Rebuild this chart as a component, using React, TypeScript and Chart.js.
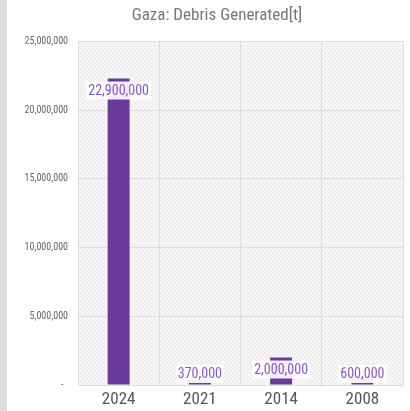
import React, { useEffect, useRef } from "react";
import { Chart, registerables } from "chart.js";

Chart.register(...registerables);

const titleText = "Gaza: Debris Generated[t]";
const categories = ["2024", "2021", "2014", "2008"];
const debrisTonnes = [22300000, 370000, 2000000, 600000];
const valueLabels = ["22,900,000", "370,000", "2,000,000", "600,000"];
const yMax = 25000000;
const yStep = 5000000;

const FONT = "'Roboto Condensed', 'Liberation Sans', sans-serif";

function makeHatch(ctx: CanvasRenderingContext2D): CanvasPattern | string {
  const c = document.createElement("canvas");
  c.width = 4;
  c.height = 4;
  const p = c.getContext("2d");
  if (!p) return "#f4f4f4";
  p.fillStyle = "#f7f7f7";
  p.fillRect(0, 0, 4, 4);
  p.strokeStyle = "#e6e6e6";
  p.lineWidth = 1;
  p.beginPath();
  p.moveTo(0, 0);
  p.lineTo(4, 4);
  p.moveTo(-1, 3);
  p.lineTo(1, 5);
  p.moveTo(3, -1);
  p.lineTo(5, 1);
  p.stroke();
  return ctx.createPattern(c, "repeat") || "#f4f4f4";
}

const backgroundPlugin = {
  id: "bgPlugin",
  afterLayout(chart: any) {
    if (chart.titleBlock) {
      chart.titleBlock.left = 31;
    }
  },
  beforeDraw(chart: any) {
    const { ctx, chartArea, width, height } = chart;
    ctx.save();
    ctx.fillStyle = "#ffffff";
    ctx.fillRect(0, 0, width, height);
    ctx.fillStyle = "#dcdcd9";
    ctx.fillRect(0, 0, 7, height);
    ctx.fillStyle = makeHatch(ctx);
    ctx.fillRect(chartArea.left, chartArea.top, chartArea.right - chartArea.left, chartArea.bottom - chartArea.top);
    ctx.restore();
  },
};

const valueLabelPlugin = {
  id: "valueLabels",
  afterDatasetsDraw(chart: any) {
    const { ctx, chartArea } = chart;
    const meta = chart.getDatasetMeta(0);
    ctx.save();
    ctx.font = `14px ${FONT}`;
    ctx.textAlign = "center";
    ctx.textBaseline = "middle";
    meta.data.forEach((bar: any, i: number) => {
      const text = valueLabels[i];
      let y = bar.y + 12;
      const maxY = chartArea.bottom - 11;
      if (y > maxY) y = maxY;
      const w = ctx.measureText(text).width + 4;
      const h = 18;
      ctx.fillStyle = "rgba(255,255,255,0.92)";
      ctx.fillRect(bar.x - w / 2, y - h / 2, w, h);
      ctx.fillStyle = "#8b58c4";
      ctx.fillText(text, bar.x, y + 0.5);
    });
    ctx.restore();
  },
};

export default function App() {
  const ref = useRef<HTMLCanvasElement | null>(null);

  useEffect(() => {
    if (!ref.current) return;
    const chart = new Chart(ref.current, {
      type: "bar",
      data: {
        labels: categories,
        datasets: [
          {
            data: debrisTonnes,
            backgroundColor: "#6a3a9d",
            borderWidth: 0,
            categoryPercentage: 1,
            barPercentage: 0.27,
          },
        ],
      },
      options: {
        animation: false,
        responsive: false,
        layout: { padding: { top: 6, right: 7, left: 0, bottom: 0 } },
        plugins: {
          legend: { display: false },
          tooltip: { enabled: false },
          title: {
            display: true,
            text: titleText,
            color: "#777777",
            font: { family: FONT, size: 17, weight: "normal" },
            padding: { top: 0, bottom: 15 },
          },
        },
        scales: {
          x: {
            grid: { color: "#dddddd", drawTicks: false, offset: true },
            border: { color: "#dddddd" },
            ticks: {
              color: "#555555",
              font: { family: FONT, size: 17 },
              padding: 5,
            },
            afterFit(scale: any) {
              scale.height = 26;
            },
          },
          y: {
            min: 0,
            max: yMax,
            grid: { color: "#dddddd", drawTicks: false },
            border: { color: "#dddddd" },
            ticks: {
              stepSize: yStep,
              color: "#666666",
              font: { family: FONT, size: 10 },
              padding: 10,
              callback: (v: any) => (Number(v) === 0 ? "-  " : Number(v).toLocaleString("en-US")),
            },
            afterFit(scale: any) {
              scale.width = 78;
            },
          },
        },
      },
      plugins: [backgroundPlugin, valueLabelPlugin],
    });
    return () => chart.destroy();
  }, []);

  return (
    <div style={{ position: "fixed", left: 0, top: 0, width: 410, height: 411, background: "#fff" }}>
      <canvas ref={ref} width={410} height={411} style={{ display: "block", width: 410, height: 411 }} />
    </div>
  );
}
